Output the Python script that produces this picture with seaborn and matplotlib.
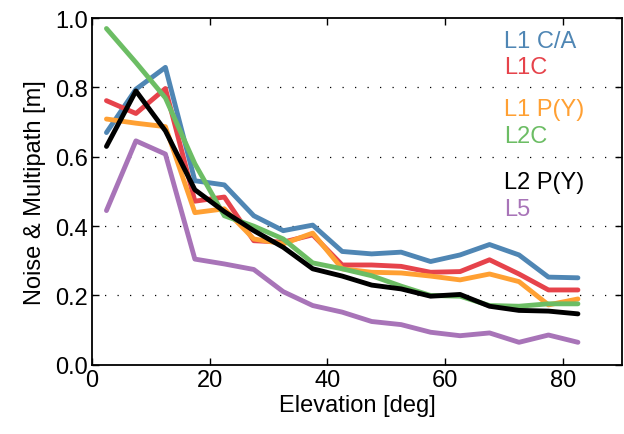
import matplotlib
matplotlib.use("Agg")
import matplotlib.pyplot as plt
import pandas as pd
import numpy as np
import seaborn as sns

sns.set_style("ticks")
plt.rcParams["font.family"] = ["Liberation Sans", "DejaVu Sans"]
plt.rcParams["text.color"] = "black"
plt.rcParams["axes.labelcolor"] = "black"

# elevation bin centres
elevation = [2.5, 7.5, 12.5, 17.5, 22.5, 27.5, 32.5, 37.5, 42.5,
             47.5, 52.5, 57.5, 62.5, 67.5, 72.5, 77.5, 82.5]

l1ca = [0.67, 0.795, 0.858, 0.531, 0.519, 0.43, 0.387, 0.403, 0.327,
        0.32, 0.325, 0.298, 0.317, 0.347, 0.317, 0.253, 0.251]
l1c = [0.762, 0.725, 0.797, 0.472, 0.484, 0.358, 0.354, 0.375, 0.288,
       0.288, 0.284, 0.267, 0.269, 0.303, 0.262, 0.216, 0.216]
l1py = [0.709, 0.697, 0.687, 0.439, 0.45, 0.363, 0.349, 0.38, 0.277,
        0.267, 0.265, 0.256, 0.245, 0.262, 0.24, 0.173, 0.19]
l2c = [0.97, 0.872, 0.77, 0.58, 0.43, 0.40, 0.363, 0.294, 0.277,
       0.257, 0.227, 0.20, 0.198, 0.171, 0.169, 0.176, 0.176]
l2py = [0.63, 0.79, 0.675, 0.505, 0.442, 0.387, 0.339, 0.277, 0.256,
        0.23, 0.219, 0.198, 0.203, 0.169, 0.157, 0.155, 0.147]
l5 = [0.445, 0.646, 0.608, 0.305, 0.291, 0.275, 0.211, 0.171, 0.152,
      0.125, 0.116, 0.094, 0.084, 0.092, 0.065, 0.086, 0.065]

signals = ["L1 C/A", "L1C", "L1 P(Y)", "L2C", "L2 P(Y)", "L5"]
colors = ["#4f86b4", "#e6434b", "#ffa033", "#6cbd64", "#000000", "#a874b8"]
label_y = [0.934, 0.859, 0.738, 0.66, 0.527, 0.45]

df = pd.DataFrame({
    "Elevation": elevation * 6,
    "Value": l1ca + l1c + l1py + l2c + l2py + l5,
    "Signal": np.repeat(signals, len(elevation)),
})

fig = plt.figure(figsize=(6.24, 4.35), dpi=100)
ax = fig.add_axes([0.147, 0.159, 0.850, 0.797])

sns.lineplot(data=df, x="Elevation", y="Value", hue="Signal",
             hue_order=signals, palette=colors, linewidth=3.5,
             legend=False, ax=ax)

ax.set_xlim(0, 90)
ax.set_ylim(0, 1)
ax.set_xticks([0, 20, 40, 60, 80])
ax.set_yticks([0, 0.2, 0.4, 0.6, 0.8, 1.0])
ax.set_yticklabels(["0.0", "0.2", "0.4", "0.6", "0.8", "1.0"])
for g in [0.2, 0.4, 0.6, 0.8]:
    ax.axhline(g, color="black", linestyle=(0, (1, 9)), linewidth=0.9, zorder=0)

ax.tick_params(direction="in", top=True, right=True, length=5, width=1,
               labelsize=17, colors="black", pad=3)
for s in ax.spines.values():
    s.set_linewidth(1.3)
    s.set_color("black")

ax.set_xlabel("Elevation [deg]", fontsize=17, labelpad=2, color="black")
ax.set_ylabel("Noise & Multipath [m]", fontsize=17, labelpad=6, color="black")

for name, c, y in zip(signals, colors, label_y):
    ax.text(70, y, name, color=c, fontsize=17, va="center", ha="left")

fig.savefig("out.png", dpi=100)
